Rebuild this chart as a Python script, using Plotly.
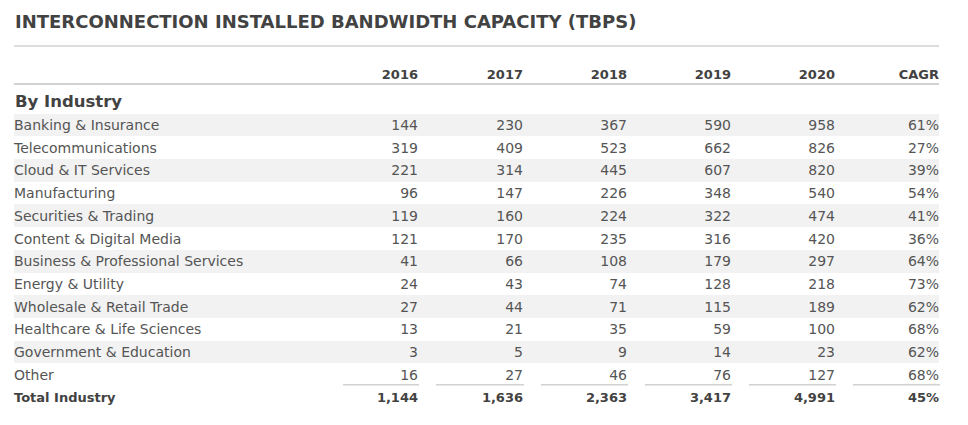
import plotly.graph_objects as go

# data
years = ["2016", "2017", "2018", "2019", "2020"]
industries = [
    "Banking & Insurance",
    "Telecommunications",
    "Cloud & IT Services",
    "Manufacturing",
    "Securities & Trading",
    "Content & Digital Media",
    "Business & Professional Services",
    "Energy & Utility",
    "Wholesale & Retail Trade",
    "Healthcare & Life Sciences",
    "Government & Education",
    "Other",
]
v2016 = [144, 319, 221, 96, 119, 121, 41, 24, 27, 13, 3, 16]
v2017 = [230, 409, 314, 147, 160, 170, 66, 43, 44, 21, 5, 27]
v2018 = [367, 523, 445, 226, 224, 235, 108, 74, 71, 35, 9, 46]
v2019 = [590, 662, 607, 348, 322, 316, 179, 128, 115, 59, 14, 76]
v2020 = [958, 826, 820, 540, 474, 420, 297, 218, 189, 100, 23, 127]
cagr = [61, 27, 39, 54, 41, 36, 64, 73, 62, 68, 62, 68]
total_label = "Total Industry"
totals = [1144, 1636, 2363, 3417, 4991]
total_cagr = 45

title = "INTERCONNECTION INSTALLED BANDWIDTH CAPACITY (TBPS)"
group_label = "By Industry"

# layout: axes in page pixels (page body has an 8px margin)
W, H, PAD = 968, 425, 8
LEFT, RIGHT = 14, 939
col_right = [418, 523, 627, 731, 835, 939]
row0, pitch = 125, 22.7
TXT_DY = 1.5  # text sits a touch high in its row otherwise
FONT = "DejaVu Sans"
TXT = "#555555"
DARK = "#424242"
GRID = "#d2d2d2"

def row_y(i):
    return row0 + i * pitch

fig = go.Figure()

# zebra stripes
stripe_rows = [row_y(i) for i in range(len(industries)) if i % 2 == 0]
fig.add_trace(go.Bar(
    y=stripe_rows, x=[RIGHT - LEFT] * len(stripe_rows), base=LEFT,
    orientation="h", width=pitch, marker=dict(color="#f2f2f2", line=dict(width=0)),
    hoverinfo="skip", showlegend=False,
))

ys = [row_y(i) + TXT_DY for i in range(len(industries))]
fig.add_trace(go.Scatter(
    x=[LEFT] * len(industries), y=ys, text=industries, mode="text",
    textposition="middle right", textfont=dict(family=FONT, size=14, color=TXT),
    hoverinfo="skip", showlegend=False,
))

columns = [v2016, v2017, v2018, v2019, v2020]
for j, vals in enumerate(columns):
    fig.add_trace(go.Scatter(
        x=[col_right[j]] * len(vals), y=ys, text=[f"{v:,}" for v in vals],
        mode="text", textposition="middle left",
        textfont=dict(family=FONT, size=14, color=TXT),
        hoverinfo="skip", showlegend=False,
    ))
fig.add_trace(go.Scatter(
    x=[col_right[5]] * len(cagr), y=ys, text=[f"{v}%" for v in cagr],
    mode="text", textposition="middle left",
    textfont=dict(family=FONT, size=14, color=TXT),
    hoverinfo="skip", showlegend=False,
))

# header row
fig.add_trace(go.Scatter(
    x=col_right, y=[74 + TXT_DY] * 6, text=years + ["CAGR"], mode="text",
    textposition="middle left", textfont=dict(family=FONT, size=13, color=DARK),
    texttemplate="<b>%{text}</b>", hoverinfo="skip", showlegend=False,
))

# total row
ty = row_y(len(industries)) + TXT_DY
fig.add_trace(go.Scatter(
    x=[LEFT] + col_right, y=[ty] * 7,
    text=[total_label] + [f"{v:,}" for v in totals] + [f"{total_cagr}%"],
    mode="text", textposition=["middle right"] + ["middle left"] * 6,
    textfont=dict(family=FONT, size=13, color=DARK),
    texttemplate="<b>%{text}</b>", hoverinfo="skip", showlegend=False,
))

shapes = [
    dict(type="line", x0=LEFT, x1=RIGHT, y0=46, y1=46, line=dict(color=GRID, width=1.5)),
    dict(type="line", x0=LEFT, x1=RIGHT, y0=84, y1=84, line=dict(color=GRID, width=2)),
]
line_y = row_y(len(industries) - 1) + 10
starts = [343] + [c + 18 for c in col_right[:-1]]
for s, e in zip(starts, col_right):
    shapes.append(dict(type="line", x0=s, x1=e + 1, y0=line_y, y1=line_y,
                       line=dict(color=GRID, width=1.5)))
for sh in shapes:
    sh.update(xref="x", yref="y", layer="below")

fig.update_layout(
    width=W - PAD, height=H - PAD,
    margin=dict(l=0, r=0, t=0, b=0),
    paper_bgcolor="white", plot_bgcolor="white",
    xaxis=dict(range=[PAD, W], visible=False, fixedrange=True),
    yaxis=dict(range=[H, PAD], visible=False, fixedrange=True),
    shapes=shapes,
    annotations=[
        dict(x=LEFT - 1, y=21, xref="x", yref="y", text=f"<b>{title}</b>", showarrow=False,
             xanchor="left", yanchor="middle",
             font=dict(family=FONT, size=18, color=DARK)),
        dict(x=LEFT - 1, y=101, xref="x", yref="y", text=f"<b>{group_label}</b>", showarrow=False,
             xanchor="left", yanchor="middle",
             font=dict(family=FONT, size=16.5, color=DARK)),
    ],
    bargap=0,
)

fig.write_html("out.html")
